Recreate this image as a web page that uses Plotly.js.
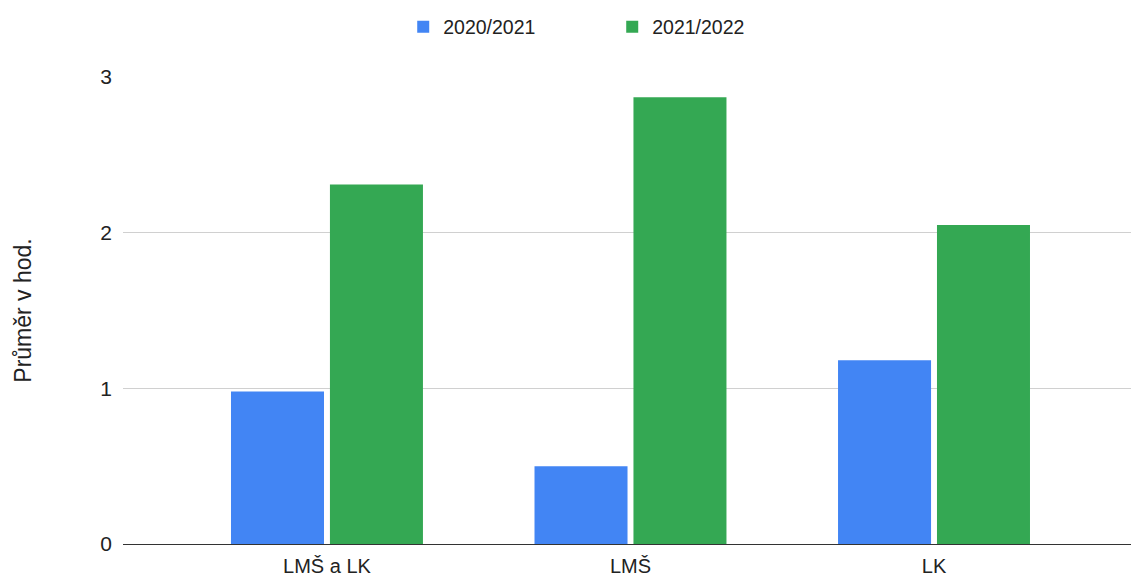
<!DOCTYPE html>
<html>
<head>
<meta charset="utf-8">
<script src="https://cdn.plot.ly/plotly-3.0.1.min.js"></script>
<style>html,body{margin:0;padding:0;background:#fff;}#chart{width:1131px;height:578px;}</style>
</head>
<body>
<div id="chart"></div>
<script>
const categories = ["LMŠ a LK", "LMŠ", "LK"];
const seriesNames = ["2020/2021", "2021/2022"];
const values2020 = [0.98, 0.50, 1.18];
const values2021 = [2.31, 2.87, 2.05];
const yTicks = [0, 1, 2, 3];
const yTitle = "Průměr v hod.";

const font = "Liberation Sans, Arial, sans-serif";
const traces = [
  {type: "bar", name: seriesNames[0], x: categories, y: values2020, marker: {color: "#4285F4"}},
  {type: "bar", name: seriesNames[1], x: categories, y: values2021, marker: {color: "#34A853"}}
];
const layout = {
  width: 1131, height: 578,
  margin: {l: 123, r: 0, t: 77, b: 34},
  paper_bgcolor: "#fff", plot_bgcolor: "#fff",
  font: {family: font, size: 16, color: "#222"},
  barmode: "group", bargap: 0.348, bargroupgap: 0.06,
  showlegend: true,
  legend: {orientation: "h", x: 0.278, xanchor: "left", yref: "container", y: 0.953, yanchor: "middle",
    font: {size: 19.5, color: "#222"}, itemwidth: 30, entrywidth: 164, entrywidthmode: "pixels"},
  xaxis: {type: "category", range: [-0.672, 2.649], showgrid: false, showline: true, linecolor: "#333", linewidth: 1,
    ticks: "", ticklabelstandoff: 4, tickfont: {size: 20, color: "#222"}, automargin: false, fixedrange: true},
  yaxis: {range: [0, 3], tickvals: yTicks, ticktext: yTicks.map(String), showgrid: true, gridcolor: "#d0d0d0",
    zeroline: true, zerolinecolor: "#333", zerolinewidth: 1, showline: false, ticks: "", ticklabelstandoff: 10,
    tickfont: {size: 21, color: "#222"}, automargin: false,
    title: {text: yTitle, font: {size: 23, color: "#222"}, standoff: 62}}
};
Plotly.newPlot("chart", traces, layout, {displayModeBar: false, staticPlot: true});
</script>
</body>
</html>
